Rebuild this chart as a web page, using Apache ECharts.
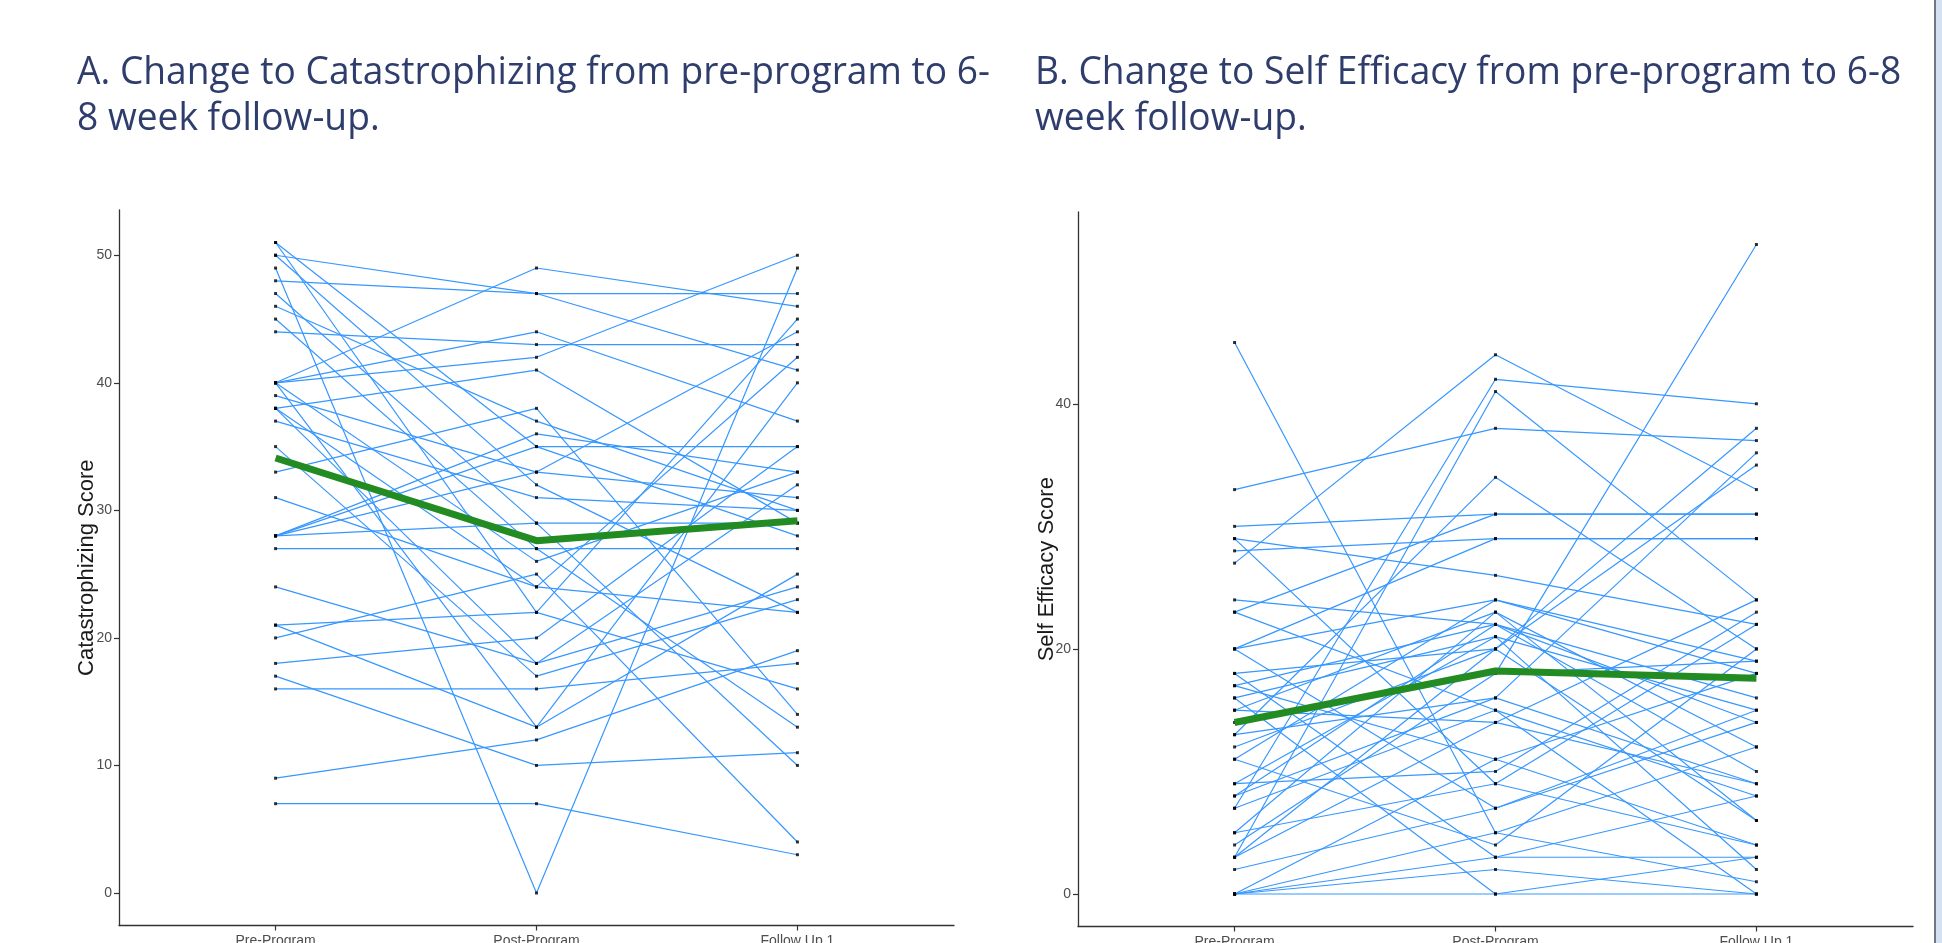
<!DOCTYPE html>
<html>
<head>
<meta charset="utf-8">
<script src="https://cdn.jsdelivr.net/npm/echarts@6/dist/echarts.min.js"></script>
<style>
html,body{margin:0;padding:0;background:#ffffff;}
#chart{width:1942px;height:943px;}
</style>
</head>
<body>
<div id="chart"></div>
<script>
// ---------- DATA ----------
const categories = ['Pre-Program', 'Post-Program', 'Follow Up 1'];

const titleA = ['A. Change to Catastrophizing from pre-program to 6-', '8 week follow-up.'];
const titleB = ['B. Change to Self Efficacy from pre-program to 6-8', 'week follow-up.'];
const yNameA = 'Catastrophizing Score';
const yNameB = 'Self Efficacy Score';
const ticksA = [0, 10, 20, 30, 40, 50];
const ticksB = [0, 20, 40];

// Catastrophizing, one entry per participant
const catPre    = [51,51,50,50,49,48,47,46,45,44,40,40,40,40,40,39,38,38,38,37,35,33,31,28,28,28,28,27,24,21,21,20,18,17,16,9,7];
const catPost   = [22,35,47,32,0,47,29,37,27,43,49,44,42,26,13,33,41,18,24,31,17,38,24,36,33,35,29,27,18,22,13,25,20,10,16,12,7];
const catFollow = [45,28,47,22,49,41,10,30,13,43,46,37,50,33,40,31,29,24,42,30,23,14,22,33,44,35,29,27,32,16,25,4,35,11,18,19,3];

// Self efficacy, one entry per participant
const sePre    = [45,33,30,29,29,28,27,24,23,23,20,20,20,18,18,17,17,16,16,15,15,14,13,13,12,11,11,9,9,8,8,7,7,5,5,4,3,3,3,2,0,0,0,0,0];
const sePost   = [5,38,31,26,9,29,44,22,31,15,24,7,29,20,3,22,11,21,0,23,14,18,34,16,20,24,4,21,10,22,16,42,15,23,9,18,41,20,14,7,11,5,3,2,0];
const seFollow = [12,37,31,22,4,29,33,16,31,0,19,14,29,35,8,10,18,15,3,6,24,53,20,9,38,18,20,2,23,14,36,40,8,12,22,19,24,6,9,15,4,1,3,0,0];

// ---------- STYLE ----------
const BLUE = '#3797ff';
const GREEN = '#228b22';
const TITLE_COLOR = '#2f3d6c';

function mean(a){ return a.reduce((s,v)=>s+v,0)/a.length; }

function buildSeries(pre, post, follow, g){
  const out = [];
  for (let i = 0; i < pre.length; i++){
    out.push({
      type:'line', xAxisIndex:g, yAxisIndex:g, silent:true, animation:false,
      data:[[1,pre[i]],[2,post[i]],[3,follow[i]]],
      symbol:'none', lineStyle:{color:BLUE, width:1.2}, z:2
    });
  }
  const pts = [];
  [pre, post, follow].forEach((arr, k)=>arr.forEach(v=>pts.push([k+1, v])));
  out.push({
    type:'scatter', xAxisIndex:g, yAxisIndex:g, silent:true, animation:false,
    data:pts, symbol:'rect', symbolSize:3, itemStyle:{color:'#000'}, z:3
  });
  out.push({
    type:'line', xAxisIndex:g, yAxisIndex:g, silent:true, animation:false,
    data:[[1,mean(pre)],[2,mean(post)],[3,mean(follow)]],
    symbol:'none', lineStyle:{color:GREEN, width:7}, z:4
  });
  return out;
}

function xAxisFor(g){
  return {
    type:'value', gridIndex:g, min:0.4, max:3.6,
    axisLine:{show:true, onZero:false, lineStyle:{color:'#333', width:1.3}},
    axisTick:{show:true, length:5, customValues:[1,2,3], lineStyle:{color:'#333', width:1.2}},
    axisLabel:{customValues:[1,2,3], margin:9, color:'#4d4d4d', fontSize:14,
      fontFamily:'Liberation Sans', formatter:v=>categories[Math.round(v)-1]},
    splitLine:{show:false}
  };
}
function yAxisFor(g, min, max, ticks, name, gap){
  return {
    type:'value', gridIndex:g, min:min, max:max,
    name:name, nameLocation:'middle', nameGap:gap, nameMoveOverlap:false,
    nameTextStyle:{color:'#1a1a1a', fontSize:22, fontFamily:'Liberation Sans'},
    axisLine:{show:true, onZero:false, lineStyle:{color:'#333', width:1.3}},
    axisTick:{show:true, length:5, customValues:ticks, lineStyle:{color:'#333', width:1.2}},
    axisLabel:{customValues:ticks, margin:7, color:'#4d4d4d', fontSize:14, fontFamily:'Liberation Sans'},
    splitLine:{show:false}
  };
}

// title text, narrowed to the reference width
const TFONT = '38px "Open Sans"';
const ctx = document.createElement('canvas').getContext('2d');
ctx.font = TFONT;
const sx = 913 / ctx.measureText(titleA[0]).width;

function titleGraphic(lines, x){
  return lines.map((t, i)=>({
    type:'text', x:x, y:73 + i*46, scaleX:sx, scaleY:1, silent:true,
    style:{text:t, font:TFONT, fill:TITLE_COLOR, textVerticalAlign:'middle', textAlign:'left'}
  }));
}

const chart = echarts.init(document.getElementById('chart'), null, {renderer:'canvas'});
chart.setOption({
  animation:false,
  backgroundColor:'#ffffff',
  grid:[
    {left:119, top:210, width:835, height:715.5, outerBoundsMode:'none', containLabel:false},
    {left:1078, top:212, width:835, height:714.5, outerBoundsMode:'none', containLabel:false}
  ],
  xAxis:[xAxisFor(0), xAxisFor(1)],
  yAxis:[
    yAxisFor(0, -2.55, 53.55, ticksA, yNameA, 21),
    yAxisFor(1, -2.65, 55.65, ticksB, yNameB, 20)
  ],
  series:[].concat(buildSeries(catPre, catPost, catFollow, 0), buildSeries(sePre, sePost, seFollow, 1)),
  graphic:[].concat(
    titleGraphic(titleA, 77),
    titleGraphic(titleB, 1035),
    [
      {type:'rect', silent:true, shape:{x:1934, y:0, width:2, height:943}, style:{fill:'#6f7684'}},
      {type:'rect', silent:true, shape:{x:1936, y:0, width:6, height:943}, style:{fill:'#d4e1f2'}}
    ]
  )
});
</script>
</body>
</html>
